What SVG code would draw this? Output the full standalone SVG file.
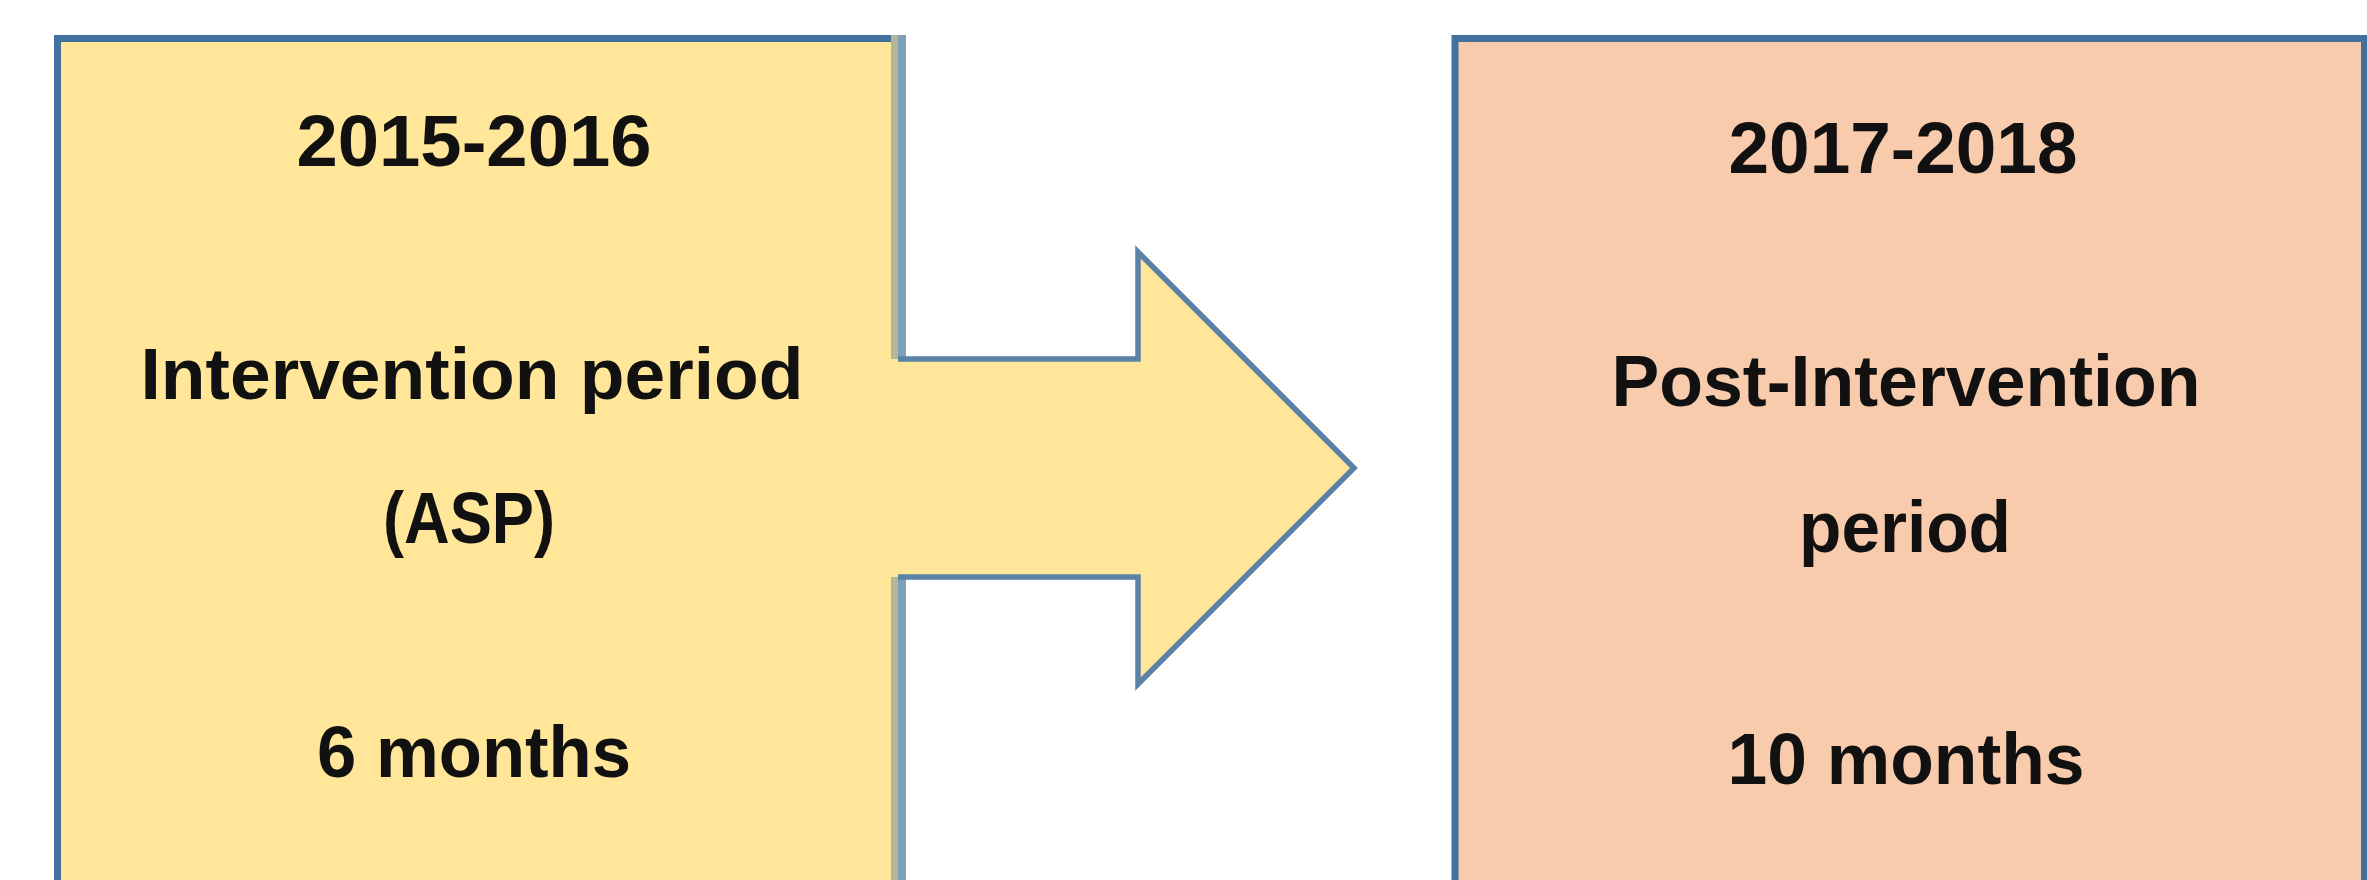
<svg xmlns="http://www.w3.org/2000/svg" width="2367" height="880" viewBox="0 0 2367 880">
  <style>
    .label { font-family: "Liberation Sans", Arial, sans-serif; font-weight: bold; font-size: 72px; fill: #111; text-anchor: middle; }
    .border { stroke: #41719C; stroke-width: 7; }
  </style>
  <rect width="2367" height="880" fill="#ffffff"/>

  <!-- Left period box -->
  <g id="node-intervention">
    <rect x="57.5" y="38.5" width="841" height="860" fill="#FFE699" class="border"/>
    <!-- softened right edge -->
    <rect x="891" y="35" width="7" height="845" fill="#B4B698"/>
    <rect x="898" y="35" width="8" height="845" fill="#7F9FBB"/>
    <text class="label" x="474" y="166" textLength="355" lengthAdjust="spacingAndGlyphs">2015-2016</text>
    <text class="label" x="472" y="399" textLength="663" lengthAdjust="spacingAndGlyphs">Intervention period</text>
    <text class="label" x="469" y="543" textLength="172" lengthAdjust="spacingAndGlyphs">(ASP)</text>
    <text class="label" x="474" y="777" textLength="314" lengthAdjust="spacingAndGlyphs">6 months</text>
  </g>

  <!-- Right period box -->
  <g id="node-post-intervention">
    <rect x="1455" y="38.5" width="909.5" height="860" fill="#F8CBAD" class="border"/>
    <text class="label" x="1903" y="173" textLength="349" lengthAdjust="spacingAndGlyphs">2017-2018</text>
    <text class="label" x="1906" y="406" textLength="589" lengthAdjust="spacingAndGlyphs">Post-Intervention</text>
    <text class="label" x="1905" y="552" textLength="212" lengthAdjust="spacingAndGlyphs">period</text>
    <text class="label" x="1906" y="784" textLength="357" lengthAdjust="spacingAndGlyphs">10 months</text>
  </g>

  <!-- Block arrow from the first period to the second -->
  <g id="connectors">
    <polygon points="888,359 1138,359 1138,252 1354,468 1138,684 1138,577 888,577" fill="#FFE699"/>
    <polyline points="898,359 1138,359 1138,252 1354,468 1138,684 1138,577 898,577" fill="none" stroke="#5A81A6" stroke-width="5.5" stroke-linejoin="miter"/>
  </g>
</svg>
